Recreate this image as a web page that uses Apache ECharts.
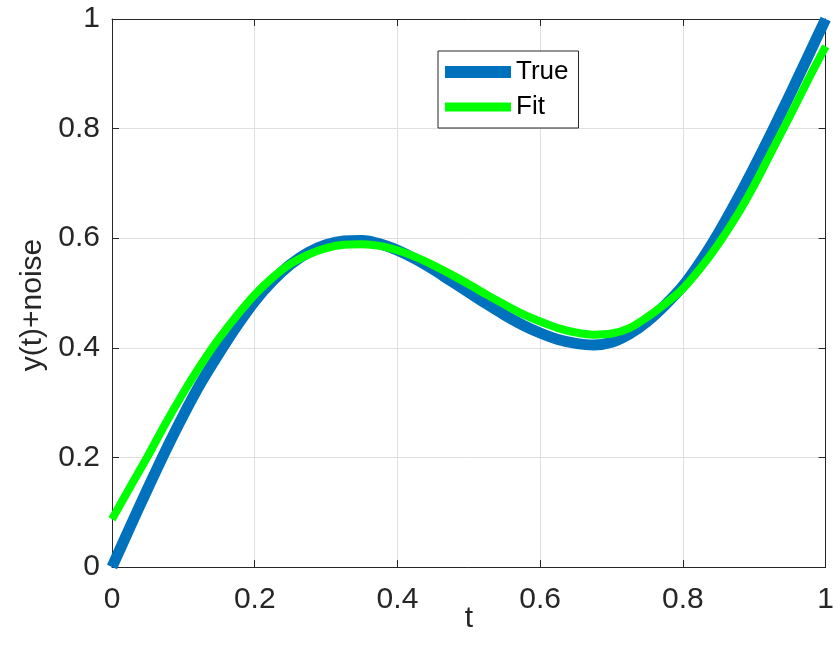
<!DOCTYPE html>
<html>
<head>
<meta charset="utf-8">
<script src="https://cdn.jsdelivr.net/npm/echarts@6/dist/echarts.min.js"></script>
<style>
html,body{margin:0;padding:0;background:#fff;}
#chart{width:837px;height:659px;}
</style>
</head>
<body>
<div id="chart"></div>
<script>
// Sample positions (t)
const tValues = [0, 0.025, 0.05, 0.075, 0.10, 0.125, 0.15, 0.175, 0.20, 0.225, 0.25,
                 0.275, 0.30, 0.325, 0.35, 0.375, 0.40, 0.425, 0.45, 0.475, 0.50,
                 0.525, 0.55, 0.575, 0.60, 0.625, 0.65, 0.675, 0.70, 0.725, 0.75,
                 0.775, 0.80, 0.825, 0.85, 0.875, 0.90, 0.925, 0.95, 0.975, 1.00];
// "True" curve values
const trueValues = [0.000, 0.072, 0.143, 0.212, 0.277, 0.337, 0.390, 0.440, 0.485, 0.522, 0.552,
                    0.574, 0.588, 0.595, 0.596, 0.590, 0.578, 0.562, 0.543, 0.522, 0.501,
                    0.480, 0.460, 0.442, 0.427, 0.415, 0.408, 0.405, 0.410, 0.425, 0.448,
                    0.478, 0.513, 0.558, 0.610, 0.668, 0.730, 0.795, 0.862, 0.931, 1.000];
// "Fit" curve values
const fitValues = [0.087, 0.145, 0.202, 0.262, 0.318, 0.370, 0.417, 0.459, 0.497, 0.528, 0.553,
                   0.570, 0.582, 0.588, 0.589, 0.586, 0.578, 0.566, 0.551, 0.534, 0.516,
                   0.497, 0.479, 0.462, 0.448, 0.436, 0.428, 0.424, 0.426, 0.436, 0.456,
                   0.480, 0.508, 0.546, 0.590, 0.640, 0.697, 0.760, 0.823, 0.888, 0.950];
const seriesNames = ['True', 'Fit'];
const xTicks = [0, 0.2, 0.4, 0.6, 0.8, 1];
const yTicks = [0, 0.2, 0.4, 0.6, 0.8, 1];

const FONT = "'Liberation Sans', Arial, Helvetica, sans-serif";
const AX = '#262626';

const toPairs = (xs, ys) => xs.map((x, i) => [x, ys[i]]);

const chart = echarts.init(document.getElementById('chart'), null, {renderer: 'canvas'});

const baseAxis = {
  type: 'value', min: 0, max: 1, interval: xTicks[1] - xTicks[0],
  axisLine: {show: true, onZero: false, lineStyle: {color: AX, width: 1}},
  axisTick: {show: true, inside: true, length: 7, lineStyle: {color: AX, width: 1}},
  splitLine: {show: false},
  axisLabel: {show: false}
};

chart.setOption({
  animation: false,
  backgroundColor: '#ffffff',
  grid: {left: 112, right: 8, top: 19, bottom: 92, containLabel: false},
  xAxis: [
    Object.assign({}, baseAxis, {
      position: 'bottom',
      name: 't', nameLocation: 'middle', nameGap: 37, nameMoveOverlap: false,
      nameTextStyle: {fontSize: 30, color: AX, fontFamily: FONT},
      axisLabel: {show: true, fontSize: 30, color: AX, fontFamily: FONT, margin: 18,
                  formatter: v => String(v)},
      splitLine: {show: true, lineStyle: {color: '#dfdfdf', width: 1}}
    }),
    Object.assign({}, baseAxis, {position: 'top'})
  ],
  yAxis: [
    Object.assign({}, baseAxis, {
      interval: yTicks[1] - yTicks[0],
      position: 'left',
      name: 'y(t)+noise', nameLocation: 'middle', nameGap: 58, nameRotate: 90,
      nameTextStyle: {fontSize: 30, color: AX, fontFamily: FONT, padding: [0, 24, 0, 0]},
      axisLabel: {show: true, fontSize: 30, color: AX, fontFamily: FONT, margin: 12,
                  formatter: v => String(v)},
      splitLine: {show: true, lineStyle: {color: '#dfdfdf', width: 1}}
    }),
    Object.assign({}, baseAxis, {position: 'right'})
  ],
  legend: {
    orient: 'vertical',
    left: 438, top: 51,
    padding: [8, 10, 8, 7],
    itemGap: 9,
    itemWidth: 66,
    itemHeight: 12,
    borderColor: AX, borderWidth: 1,
    backgroundColor: '#ffffff',
    textStyle: {fontSize: 26, color: '#000', fontFamily: FONT},
    data: [
      {name: seriesNames[0], icon: 'rect', itemStyle: {color: '#0072BD'}},
      {name: seriesNames[1], icon: 'path://M0,1.5 L66,1.5 L66,10.5 L0,10.5 Z', itemStyle: {color: '#00FF00'}}
    ]
  },
  series: [
    {
      name: seriesNames[0], type: 'line', xAxisIndex: 0, yAxisIndex: 0,
      data: toPairs(tValues, trueValues),
      smooth: 0.3, showSymbol: false, symbol: 'none', clip: false,
      lineStyle: {color: '#0072BD', width: 11, cap: 'butt', join: 'round'},
      itemStyle: {color: '#0072BD'},
      z: 2
    },
    {
      name: seriesNames[1], type: 'line', xAxisIndex: 0, yAxisIndex: 0,
      data: toPairs(tValues, fitValues),
      smooth: 0.3, showSymbol: false, symbol: 'none', clip: false,
      lineStyle: {color: '#00FF00', width: 8, cap: 'butt', join: 'round'},
      itemStyle: {color: '#00FF00'},
      z: 3
    }
  ]
});
</script>
</body>
</html>
